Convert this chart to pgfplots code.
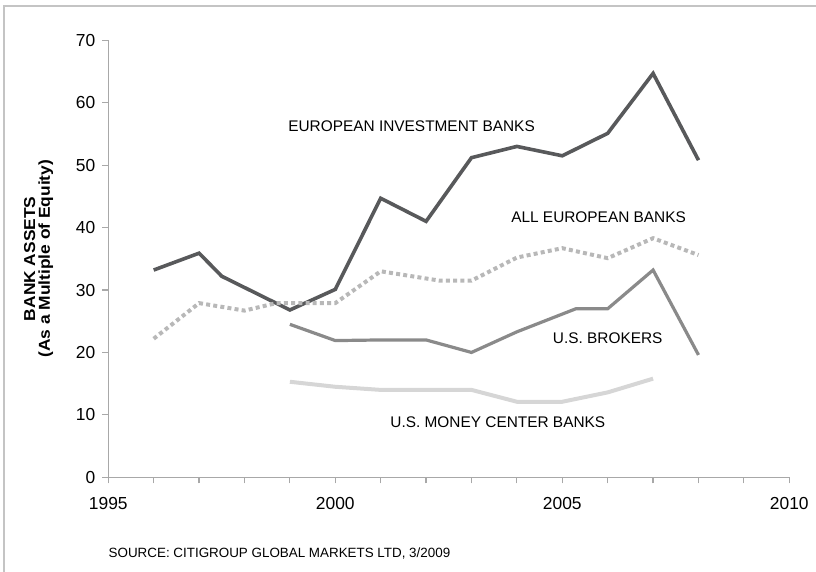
\documentclass[border=0pt]{standalone}
\usepackage{fontspec}
\setmainfont{Liberation Sans}
\newfontfamily\labfont[FakeStretch=1.1]{Liberation Sans}
\usepackage{pgfplots}
\pgfplotsset{compat=1.18}
\definecolor{eib}{HTML}{58595B}
\definecolor{aeb}{HTML}{B8B8B8}
\definecolor{brk}{HTML}{8A8A8A}
\definecolor{mcb}{HTML}{D6D6D6}
\definecolor{axgray}{HTML}{A8A8A8}
\definecolor{framegray}{HTML}{C4C4C4}
\begin{document}
\begin{tikzpicture}
\path[use as bounding box] (-54.15pt,-47.35pt) rectangle (353.85pt,238.65pt);
\draw[framegray, line width=0.75pt] (-52.15pt,-47.35pt) -- (-52.15pt,235.65pt) -- (353.85pt,235.65pt);
\node[font=\labfont\fontsize{7.9}{9}\selectfont\bfseries, rotate=90, anchor=base, inner sep=0pt] at (-36.6pt,109.25pt) {BANK ASSETS};
\node[font=\labfont\fontsize{7.9}{9}\selectfont\bfseries, rotate=90, anchor=base, inner sep=0pt] at (-29.2pt,109.25pt) {(As a Multiple of Equity)};
\node[font=\fontsize{6.7}{8}\selectfont, anchor=west, inner sep=0pt] at (0pt,-38pt) {SOURCE: CITIGROUP GLOBAL MARKETS LTD, 3/2009};
\begin{axis}[
  at={(0,0)}, anchor=south west,
  scale only axis, width=340.5pt, height=218.5pt,
  xmin=1995, xmax=2010, ymin=0, ymax=70,
  axis x line*=bottom, axis y line*=left,
  axis line style={-, axgray, line width=0.6pt},
  xtick={1995,2000,2005,2010}, xticklabels={1995,2000,2005,2010},
  minor xtick={1996,1997,1998,1999,2001,2002,2003,2004,2006,2007,2008,2009},
  ytick={0,10,...,70},
  tick align=outside, major tick length=3pt, minor tick length=3pt,
  every tick/.style={axgray, line width=0.6pt},
  minor tick style={axgray, line width=0.6pt},
  tick label style={font=\fontsize{8.7}{10}\selectfont},
  xticklabel style={yshift=-3.5pt},
  /pgf/number format/assume math mode=true,
  clip=false,
]
\addplot[eib, line width=1.8pt, line join=miter] coordinates {
(1996,33.2)(1997,35.9)(1997.5,32.2)(1999,26.8)(2000,30.1)(2001,44.7)(2002,41.0)(2003,51.2)(2004,53.0)(2005,51.5)(2006,55.1)(2007,64.7)(2008,50.8)};
\addplot[aeb, line width=2pt, dash pattern=on 2pt off 1.6pt] coordinates {
(1996,22.2)(1997,27.9)(1998,26.7)(1998.7,27.9)(2000,27.9)(2001,33.0)(2002.3,31.5)(2003,31.5)(2004,35.2)(2005,36.7)(2006,35.1)(2007,38.3)(2008,35.6)};
\addplot[brk, line width=1.6pt, line join=miter] coordinates {
(1999,24.5)(2000,21.9)(2001,22.0)(2002,22.0)(2003,20.0)(2004,23.3)(2005.3,27.0)(2006,27.0)(2007,33.2)(2008,19.6)};
\addplot[mcb, line width=2pt] coordinates {
(1999,15.3)(2000,14.5)(2001,14.0)(2003,14.0)(2004,12.1)(2005,12.1)(2006,13.6)(2007,15.8)};
\node[font=\fontsize{7.7}{9}\selectfont] at (axis cs:2001.68,56.3) {EUROPEAN INVESTMENT BANKS};
\node[font=\fontsize{7.7}{9}\selectfont] at (axis cs:2005.8,41.6) {ALL EUROPEAN BANKS};
\node[font=\fontsize{7.7}{9}\selectfont] at (axis cs:2006.0,22.3) {U.S. BROKERS};
\node[font=\fontsize{7.7}{9}\selectfont] at (axis cs:2003.58,8.9) {U.S. MONEY CENTER BANKS};
\end{axis}
\end{tikzpicture}
\end{document}
